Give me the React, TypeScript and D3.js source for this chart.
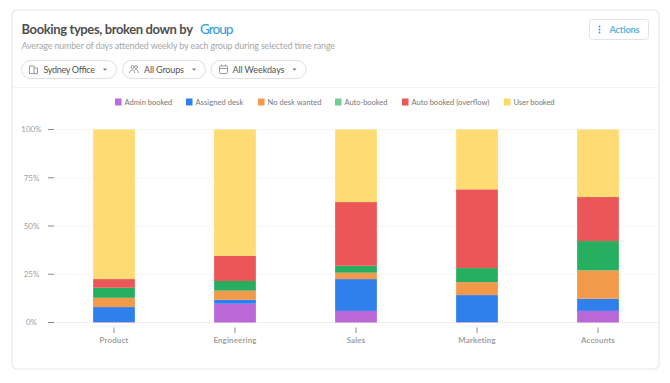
import React from "react";
import * as d3 from "d3";

const categories = ["Product", "Engineering", "Sales", "Marketing", "Accounts"];
const seriesNames = ["Admin booked", "Assigned desk", "No desk wanted", "Auto-booked", "Auto booked (overflow)", "User booked"];
const seriesColors = ["#BA68D8", "#2F80ED", "#F2994A", "#27AE60", "#EB5757", "#FFDC73"];
const legendSwatchColors = ["#BB6BD9", "#2F80ED", "#F2994A", "#6FCF97", "#EB5757", "#FFD966"];
const adminBooked = [0.2, 9.7, 6, 0.2, 6];
const assignedDesk = [7.8, 2.1, 16.5, 14, 6.3];
const noDeskWanted = [4.8, 4.7, 3.3, 6.7, 14.7];
const autoBooked = [5.2, 5, 3.6, 7.3, 15.2];
const autoOverflow = [4.5, 13, 33, 40.8, 22.8];
const userBooked = [77.5, 65.5, 37.6, 31, 35];
const yTicks = [0, 25, 50, 75, 100];
const seriesValues = [adminBooked, assignedDesk, noDeskWanted, autoBooked, autoOverflow, userBooked];

const font = "Lato, 'Noto Sans', sans-serif";
const legendX = [115, 186, 258, 335, 402, 504];
const legendWidths = [47.7, 47.7, 54, 43, 77.7, 41];

function Chevron({ x, y }: { x: number; y: number }) {
  return <path d={`M${x},${y} l4,0 l-2,2.3 z`} fill="#777" />;
}

export default function App() {
  const x = d3.scaleBand<string>().domain(categories).range([53.5, 658.5]).paddingInner(0.655).paddingOuter(0.3275);
  const y = d3.scaleLinear().domain([0, 100]).range([322.5, 129.5]);
  const rows = categories.map((c, i) => {
    const r: Record<string, number | string> = { category: c };
    seriesNames.forEach((s, j) => (r[s] = seriesValues[j][i]));
    return r;
  });
  const stacked = d3.stack<Record<string, number | string>>().keys(seriesNames)(rows as never);

  return (
    <svg width={670} height={383} style={{ position: "fixed", left: 0, top: 0, background: "#fff", fontFamily: font }}>
      <rect x={12} y={10} width={647} height={359} rx={5} fill="#fff" stroke="#E6E7EB" strokeWidth={1.2} />
      <line x1={12.5} x2={658.5} y1={87.5} y2={87.5} stroke="#F3F3F5" />

      <text x={21.5} y={34} fontSize={13} fontWeight={700} fill="#4F4F4F" textLength={171.5} lengthAdjust="spacing">Booking types, broken down by</text>
      <text x={200} y={34} fontSize={13.6} fontWeight={500} fill="#35A2DF" textLength={33.5} lengthAdjust="spacing">Group</text>
      <text x={21.5} y={49} fontSize={8.9} fill="#A6A6A6" textLength={313.5} lengthAdjust="spacing">Average number of days attended weekly by each group during selected time range</text>

      <rect x={589.5} y={19.5} width={59} height={20} rx={3} fill="#fff" stroke="#E0E4EA" />
      {[26.5, 29.5, 32.5].map((cy) => <circle key={cy} cx={599.5} cy={cy} r={0.9} fill="#2D9CDB" />)}
      <text x={609.5} y={33} fontSize={9.3} fontWeight={700} fill="#56B4E4" textLength={30} lengthAdjust="spacing">Actions</text>

      <rect x={21.5} y={60.5} width={95} height={18} rx={9} fill="#fff" stroke="#E0E0E0" />
      <rect x={122.5} y={60.5} width={83} height={18} rx={9} fill="#fff" stroke="#E0E0E0" />
      <rect x={211} y={60.5} width={95} height={18} rx={9} fill="#fff" stroke="#E0E0E0" />
      <g fill="none" stroke="#999" strokeWidth={1}>
        <path d="M29.5,73.5 V66 H34 V73.5 M34,68 H37.5 V73.5 H29" />
        <circle cx={132.5} cy={67} r={1.5} />
        <circle cx={136} cy={67} r={1.5} />
        <path d="M129.5,73 c0.5,-4 5,-4 5.5,0 M134.5,70 c2,-1 3.5,0 4,3" />
        <rect x={219.5} y={66} width={8} height={7.5} rx={1} />
        <path d="M219.5,68.5 H227.5 M221.5,64.5 V66 M225.5,64.5 V66" />
      </g>
      <text x={43.5} y={73} fontSize={9} fill="#555" textLength={51.5} lengthAdjust="spacing">Sydney Office</text>
      <text x={144} y={73} fontSize={9} fill="#555" textLength={40} lengthAdjust="spacing">All Groups</text>
      <text x={232.5} y={73} fontSize={9} fill="#555" textLength={52} lengthAdjust="spacing">All Weekdays</text>
      <Chevron x={103} y={68.5} />
      <Chevron x={192} y={68.5} />
      <Chevron x={292.5} y={68.5} />

      {seriesNames.map((s, i) => (
        <g key={s}>
          <rect x={legendX[i]} y={98.5} width={6.5} height={7} fill={legendSwatchColors[i]} />
          <text x={legendX[i] + 9.5} y={104.7} fontSize={7.5} fill="#777" textLength={legendWidths[i]} lengthAdjust="spacing">{s}</text>
        </g>
      ))}

      {yTicks.map((t) => (
        <g key={t}>
          <line x1={54} x2={658} y1={y(t)} y2={y(t)} stroke={t === 0 ? "#EEEEF2" : "#F7F7F9"} />
          <line x1={48} x2={54} y1={y(t)} y2={y(t)} stroke="#8A8A8A" />
          <text x={31.5} y={y(t) + 2.8} fontSize={8} textAnchor="middle" fill="#A0A0A0">{t}%</text>
        </g>
      ))}

      {stacked.map((layer, i) => (
        <g key={layer.key} fill={seriesColors[i]}>
          {layer.map((d, j) => (
            <rect key={j} x={x(categories[j])} width={x.bandwidth()} y={y(d[1])} height={y(d[0]) - y(d[1])} />
          ))}
        </g>
      ))}

      {categories.map((c) => {
        const cx = (x(c) as number) + x.bandwidth() / 2;
        return (
          <g key={c}>
            <line x1={cx} x2={cx} y1={327.5} y2={333} stroke="#8A8A8A" />
            <text x={cx} y={343} fontSize={7.8} fontWeight={700} textAnchor="middle" letterSpacing={0.2} fill="#A0A0A0">{c}</text>
          </g>
        );
      })}
    </svg>
  );
}
